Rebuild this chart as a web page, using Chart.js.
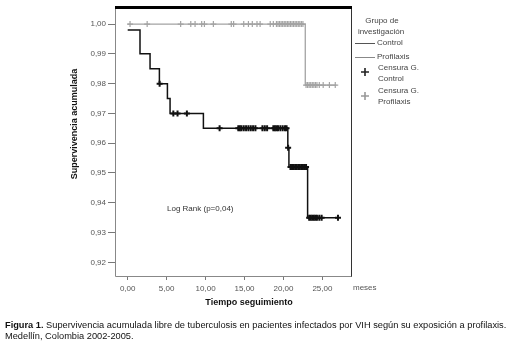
<!DOCTYPE html>
<html>
<head>
<meta charset="utf-8">
<script src="https://cdn.jsdelivr.net/npm/chart.js@4.4.1/dist/chart.umd.min.js"></script>
<style>
  html, body { margin: 0; padding: 0; background: #fff; }
  #wrap { width: 509px; height: 346px; }
</style>
</head>
<body>
<div id="wrap"><canvas id="kmChart"></canvas></div>
<script>
    "use strict";

    // Kaplan-Meier steps (time in months, survival)
    var controlTimes = [0, 1.58, 2.87, 4.07, 5.1, 5.44, 9.72, 20.56, 20.7, 23.1, 27.07];
    var controlSurv  = [0.998, 0.990, 0.985, 0.980, 0.975, 0.970, 0.965, 0.9585, 0.952, 0.935, 0.935];
    var profTimes = [0, 22.8, 26.8];
    var profSurv  = [1.0, 0.9795, 0.9795];

    // censored observations (time in months)
    var controlCensor = [4.1, 5.86, 6.4, 7.6, 11.8, 14.2, 14.4, 14.6, 14.9, 15.2, 15.5, 15.8, 16.1, 16.4,
                         17.3, 17.6, 17.9, 18.7, 18.9, 19.1, 19.3, 19.6, 19.9, 20.2, 20.4, 20.6,
                         20.9, 21.1, 21.3, 21.5, 21.7, 21.9, 22.1, 22.3, 22.5, 22.7, 22.9,
                         23.3, 23.5, 23.7, 23.9, 24.1, 24.3, 24.6, 24.9, 27.0];
    var profCensor = [0.3, 2.5, 6.8, 8.1, 8.65, 9.5, 9.85, 11.0, 13.3, 13.6, 14.9, 15.5, 16.0, 16.6, 17.0,
                      18.3, 18.7, 19.1, 19.3, 19.5, 19.7, 19.9, 20.1, 20.3, 20.5, 20.7, 20.9, 21.1, 21.3,
                      21.5, 21.7, 21.9, 22.1, 22.3, 22.5,
                      22.9, 23.1, 23.3, 23.5, 23.7, 23.9, 24.1, 24.3, 24.6, 25.1, 25.9, 26.65];

    var xTicks = [0, 5, 10, 15, 20, 25];
    var yTicks = [0.92, 0.93, 0.94, 0.95, 0.96, 0.97, 0.98, 0.99, 1.00];

    // survival value at time t, read from the step arrays
    function survAt(times, surv, t) {
        var s = surv[0];
        for (var i = 0; i < times.length; i++) {
            if (times[i] <= t) s = surv[i];
        }
        return s;
    }
    function toPoints(xs, ys) {
        return xs.map(function (x, i) { return { x: x, y: ys[i] }; });
    }
    function censorPoints(list, times, surv) {
        return list.map(function (t) { return { x: t, y: survAt(times, surv, t) }; });
    }
    function fmt(v) { return v.toFixed(2).replace('.', ','); }

    var FONT = '"Liberation Sans", Arial, sans-serif';
    var BLACK = '#111111';
    var GREY = '#a3a3a3';

    var extras = {
        id: 'extras',
        afterDraw: function (chart) {
            var c = chart.ctx;
            var a = chart.chartArea;
            c.save();
            // frame
            c.strokeStyle = '#888';
            c.lineWidth = 1;
            c.beginPath();
            c.moveTo(a.left + 0.5, a.top); c.lineTo(a.left + 0.5, a.bottom + 0.5);
            c.lineTo(a.right, a.bottom + 0.5);
            c.stroke();
            c.strokeStyle = '#333';
            c.beginPath();
            c.moveTo(a.right - 0.5, a.top); c.lineTo(a.right - 0.5, a.bottom + 0.5);
            c.stroke();
            c.fillStyle = '#000';
            c.fillRect(a.left, a.top - 2, a.right - a.left, 3);

            // annotation
            c.fillStyle = '#333';
            c.font = '8px ' + FONT;
            c.textAlign = 'left';
            c.textBaseline = 'middle';
            c.fillText('Log Rank (p=0,04)', 167, 209);

            // "meses"
            c.fillStyle = '#555';
            c.fillText('meses', 353, 288);

            // axis titles
            c.fillStyle = '#111';
            c.font = 'bold 9px ' + FONT;
            c.textAlign = 'center';
            c.fillText('Tiempo seguimiento', 249, 303);
            c.save();
            c.translate(75, 124);
            c.rotate(-Math.PI / 2);
            c.fillText('Supervivencia acumulada', 0, 0);
            c.restore();

            // legend
            c.fillStyle = '#444';
            c.font = '8px ' + FONT;
            c.textAlign = 'center';
            c.fillText('Grupo de', 382, 21);
            c.fillText('investigación', 381, 32);
            c.textAlign = 'left';
            c.lineWidth = 1;
            c.strokeStyle = '#555';
            c.beginPath(); c.moveTo(355, 43.5); c.lineTo(375, 43.5); c.stroke();
            c.fillText('Control', 377, 43);
            c.strokeStyle = '#888';
            c.beginPath(); c.moveTo(355, 57.5); c.lineTo(375, 57.5); c.stroke();
            c.fillText('Profilaxis', 377, 57);
            c.lineWidth = 1.6;
            c.strokeStyle = '#222';
            c.beginPath(); c.moveTo(361, 72); c.lineTo(369, 72); c.moveTo(365, 68); c.lineTo(365, 76); c.stroke();
            c.fillText('Censura G.', 378, 68);
            c.fillText('Control', 378, 79);
            c.strokeStyle = '#999';
            c.beginPath(); c.moveTo(361, 96); c.lineTo(369, 96); c.moveTo(365, 92); c.lineTo(365, 100); c.stroke();
            c.fillText('Censura G.', 378, 91);
            c.fillText('Profilaxis', 378, 102);

            // caption
            c.fillStyle = '#111';
            var s = 8.6;
            var boldPart = 'Figura 1.';
            var rest = ' Supervivencia acumulada libre de tuberculosis en pacientes infectados por VIH según su exposición a profilaxis.';
            c.font = 'bold ' + s + 'px ' + FONT;
            var w1 = c.measureText(boldPart).width;
            c.font = s + 'px ' + FONT;
            var w2 = c.measureText(rest).width;
            var k = 501 / (w1 + w2);
            s = s * k;
            c.font = 'bold ' + s + 'px ' + FONT;
            c.fillText(boldPart, 5, 325);
            w1 = c.measureText(boldPart).width;
            c.font = s + 'px ' + FONT;
            c.fillText(rest, 5 + w1, 325);
            c.fillText('Medellín, Colombia 2002-2005.', 5, 336);
            c.restore();
        }
    };

    var ctx = document.getElementById('kmChart');
    var myChart = new Chart(ctx, {
        type: 'line',
        data: {
            datasets: [
                {
                    label: 'Profilaxis',
                    data: toPoints(profTimes, profSurv),
                    stepped: true,
                    borderColor: GREY,
                    borderWidth: 1.3,
                    pointRadius: 0,
                    fill: false
                },
                {
                    label: 'Censura G. Profilaxis',
                    data: censorPoints(profCensor, profTimes, profSurv),
                    showLine: false,
                    pointStyle: 'cross',
                    pointRadius: 3,
                    pointBorderWidth: 1.2,
                    borderColor: GREY,
                    backgroundColor: GREY
                },
                {
                    label: 'Control',
                    data: toPoints(controlTimes, controlSurv),
                    stepped: true,
                    borderColor: BLACK,
                    borderWidth: 1.5,
                    pointRadius: 0,
                    fill: false
                },
                {
                    label: 'Censura G. Control',
                    data: censorPoints(controlCensor, controlTimes, controlSurv),
                    showLine: false,
                    pointStyle: 'cross',
                    pointRadius: 3,
                    pointBorderWidth: 2,
                    borderColor: BLACK,
                    backgroundColor: BLACK
                }
            ]
        },
        options: {
            responsive: true,
            maintainAspectRatio: false,
            animation: false,
            layout: { padding: { left: 0, right: 157, top: 8, bottom: 50 } },
            plugins: {
                legend: { display: false },
                tooltip: { enabled: false }
            },
            scales: {
                x: {
                    type: 'linear',
                    min: -1.63,
                    max: 28.8,
                    afterBuildTicks: function (scale) {
                        scale.ticks = xTicks.map(function (v) { return { value: v }; });
                    },
                    afterFit: function (scale) { scale.height = 20; },
                    border: { display: false },
                    grid: { drawOnChartArea: false, drawTicks: true, tickLength: 4, color: '#777' },
                    ticks: {
                        padding: 4,
                        maxRotation: 0,
                        autoSkip: false,
                        color: '#555',
                        font: { family: FONT, size: 8 },
                        callback: function (v) { return fmt(v); }
                    }
                },
                y: {
                    type: 'linear',
                    min: 0.9154,
                    max: 1.0054,
                    afterBuildTicks: function (scale) {
                        scale.ticks = yTicks.map(function (v) { return { value: v }; });
                    },
                    afterFit: function (scale) { scale.width = 115; },
                    border: { display: false },
                    grid: { drawOnChartArea: false, drawTicks: true, tickLength: 7, color: '#777' },
                    ticks: {
                        padding: 2,
                        autoSkip: false,
                        color: '#555',
                        font: { family: FONT, size: 8 },
                        callback: function (v) { return fmt(v); }
                    }
                }
            }
        },
        plugins: [extras]
    });
</script>
</body>
</html>
